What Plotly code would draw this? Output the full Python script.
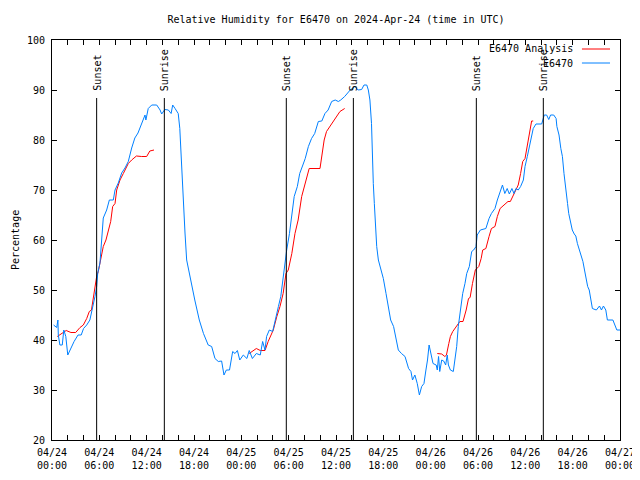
import plotly.graph_objects as go

# hours since 2024-04-24 00:00 UTC
obs_hours = [0.2, 0.6, 0.75, 0.8, 1.0, 1.3, 1.5, 1.75, 2.0, 2.3, 2.5, 2.8, 3.3, 3.7, 4.0, 4.4, 4.8, 5.0, 5.24, 5.45,
             5.66, 5.8, 6.08, 6.3, 6.5, 6.93, 7.27, 7.77, 7.99, 8.4, 8.83, 9.25, 9.67, 10.1, 10.5, 10.9, 11.37, 11.79, 11.9, 12.2,
             12.64, 13.27, 13.7, 13.9, 14.3, 14.75, 15.1, 15.3, 15.6, 16.0, 16.2, 16.4, 16.6, 16.86, 17.07, 17.4, 17.7, 18.1, 18.67, 19.2,
             19.8, 20.24, 20.66, 21.08, 21.5, 21.8, 22.1, 22.5, 22.9, 23.2, 23.5, 23.8, 24.25, 24.7, 25.0, 25.4, 25.9, 26.4, 26.7, 27.0,
             27.2, 27.55, 27.97, 28.27, 28.7, 29.0, 29.2, 29.5, 29.75, 30.1, 30.4, 30.7, 31.1, 31.4, 31.8, 32.1, 32.5, 32.9, 33.3, 33.76,
             34.2, 34.6, 35.0, 35.45, 35.9, 36.3, 36.6, 37.1, 37.8, 38.4, 38.8, 39.25, 39.55, 39.9, 40.1, 40.3, 40.5, 40.6, 40.73, 40.86,
             41.0, 41.16, 41.37, 41.7, 42.0, 42.34, 42.6, 42.93, 43.3, 43.6, 43.9, 44.3, 44.75, 45.2, 45.5, 45.7, 46.0, 46.3, 46.57, 46.86,
             47.15, 47.4, 47.6, 47.8, 48.1, 48.3, 48.7, 48.84, 49.0, 49.15, 49.4, 49.65, 49.9, 50.1, 50.25, 50.5, 50.87, 51.1, 51.3, 51.5,
             51.8, 52.06, 52.35, 52.57, 52.9, 53.2, 53.45, 53.75, 53.9, 54.3, 55.0, 55.4, 55.7, 56.15, 56.45, 56.8, 57.1, 57.4, 57.7, 57.97,
             58.3, 58.56, 58.8, 59.1, 59.4, 59.75, 59.96, 60.25, 60.5, 60.8, 61.0, 61.35, 62.07, 62.4, 62.7, 62.97, 63.2, 63.6, 63.9, 64.0,
             64.27, 64.5, 64.7, 64.9, 65.1, 65.35, 65.5, 65.75, 65.95, 66.2, 66.4, 66.6, 66.8, 67.05, 67.3, 67.5, 67.7, 67.9, 68.1, 68.3,
             68.5, 69.0, 69.4, 69.65, 69.9, 70.2, 70.4, 71.1, 71.3, 71.6, 72.0]
obs_rh = [43, 42.5, 44, 41, 39, 39, 42, 40.7, 37, 38, 38.5, 39.7, 41, 41, 42.3, 43, 44, 45.3, 47.3, 48.7,
          50.7, 53.4, 55.4, 60.7, 64.4, 66, 68, 68, 70, 71.4, 73.4, 74.4, 75.7, 78.4, 80.4, 81.4, 83.4, 85, 84, 86.3,
          87, 87, 86, 85.2, 86.1, 86, 85.3, 87, 86.3, 85.3, 82.3, 75.3, 70, 61.4, 56, 53.3, 51.3, 48, 44, 41.3,
          39, 38.7, 36.3, 35.7, 35.8, 33, 34, 34, 37.7, 37.3, 37.9, 36, 37, 36.3, 37.9, 36.3, 37.3, 37, 39.7, 38,
          40.7, 42, 41.7, 44, 46.7, 48.7, 51.3, 54.7, 58, 61.3, 64.7, 68.7, 70.7, 73.3, 75, 76.3, 78.7, 80.3, 81.3, 83.7,
          83.8, 85.3, 86, 87.7, 88, 87.7, 88, 88.7, 90, 90.7, 90, 90.1, 91, 91, 90, 88, 83.3, 76.7, 71.3, 67.3,
          63.3, 58.7, 56, 54, 52.3, 49.3, 46.7, 44, 42.7, 40, 38, 37.3, 36.7, 34.3, 33.7, 32, 33, 31.3, 29, 30.7,
          31.3, 34, 36, 39, 37, 35.3, 35, 34, 36.7, 33.7, 36, 35.8, 35, 37, 35, 34, 33.7, 36, 38.7, 42.7,
          46.7, 49.3, 51.3, 53.3, 54.7, 57.7, 58, 58.7, 61, 62, 62.3, 64.3, 65.3, 66.3, 68, 69.7, 71, 69.3, 70.3, 69.2,
          70.3, 69.3, 70.3, 70, 70.7, 72, 74.7, 76.7, 78.7, 80.7, 82.3, 83.2, 83.2, 85, 85, 84.1, 85, 85, 84.3, 82.7,
          81, 78.3, 76.7, 73.3, 70, 67.3, 65.3, 63.3, 62, 61.2, 60.8, 59.3, 58.3, 57.3, 55.7, 54, 52, 50.7, 50, 48.3,
          46.3, 46, 46.8, 46, 46.8, 46, 44, 44, 43.3, 42, 42]

ana_hours = [0.67, 1.2, 1.8, 2.4, 3.0, 3.55, 3.97, 4.4, 4.73, 5.0, 5.24, 5.45, 5.66, 5.87, 6.17, 6.5, 6.84, 7.14, 7.44, 7.69,
             7.99, 8.2, 8.62, 9.04, 9.67, 10.1, 10.7, 11.37, 12.0, 12.4, 12.93, None,
             25.0, 25.9, 26.4, 27.0, 27.4, 28.05, 28.5, 28.9, 29.3, 29.66, 29.95, 30.4, 30.8, 31.2, 31.65, 32.07, 32.6, 33.97, 34.2, 34.5,
             34.8, 35.2, 35.9, 36.5, 37.1, None,
             48.84, 49.4, 49.8, 50.0, 50.3, 50.5, 50.8, 51.4, 51.7, 52.1, 52.5, 52.8, 53.0, 53.3, 53.66, 54.1, 54.4, 54.6, 55.0, 55.4,
             55.7, 56.15, 56.45, 56.8, 57.2, 57.8, 58.1, 58.5, 58.8, 59.1, 59.4, 59.67, 59.96, 60.17, 60.4, 60.6, 60.8, 61.0]
ana_rh = [40.7, 41.3, 41.9, 41.5, 41.5, 42.5, 43, 44.3, 45.7, 46, 48.7, 50, 52.7, 53.7, 56, 58.7, 60, 62, 63.7, 66.7,
          67.3, 70, 72, 73.3, 75.3, 76, 76.8, 76.7, 76.7, 77.8, 78, None,
          37.3, 38.3, 37.9, 37.9, 39.7, 42, 44.7, 46.7, 49.3, 53.3, 54, 57.3, 61.3, 64, 68.7, 71.3, 74.3, 74.3, 77.3, 80,
          81.7, 82.7, 84.3, 85.7, 86.3, None,
          37.3, 37.2, 36.7, 37, 39.3, 40.7, 41.7, 43, 43.7, 43.7, 46, 48.3, 48.5, 51.3, 54, 54.7, 56.3, 58, 58.3, 60.7,
          62.3, 62.7, 64.7, 66.3, 66.8, 67.7, 67.7, 69, 70, 71, 73.3, 75.7, 76.3, 78.3, 80.7, 82, 83.8, 83.8]

sun_hours = [5.66, 14.24, 29.7, 38.2, 53.79, 62.28]
sun_labels = ["Sunset", "Sunrise", "Sunset", "Sunrise", "Sunset", "Sunrise"]

tick_hours = [0, 6, 12, 18, 24, 30, 36, 42, 48, 54, 60, 66, 72]
tick_labels = ["04/24<br>00:00", "04/24<br>06:00", "04/24<br>12:00", "04/24<br>18:00",
               "04/25<br>00:00", "04/25<br>06:00", "04/25<br>12:00", "04/25<br>18:00",
               "04/26<br>00:00", "04/26<br>06:00", "04/26<br>12:00", "04/26<br>18:00",
               "04/27<br>00:00"]

FONT = "DejaVu Sans Mono"
FS = 10
RED = "#ff0000"
BLUE = "#0080ff"

fig = go.Figure()
fig.add_trace(go.Scatter(x=ana_hours, y=ana_rh, mode="lines", name="E6470 Analysis",
                         line=dict(color=RED, width=1), connectgaps=False))
fig.add_trace(go.Scatter(x=obs_hours, y=obs_rh, mode="lines", name="E6470",
                         line=dict(color=BLUE, width=1)))

for h, lab in zip(sun_hours, sun_labels):
    fig.add_shape(type="line", x0=h, x1=h, y0=20, y1=88.4, xref="x", yref="y",
                  line=dict(color="black", width=1))
    fig.add_annotation(x=h, y=89.4, text=lab, textangle=-90, showarrow=False,
                       xanchor="center", yanchor="bottom", font=dict(family=FONT, size=FS, color="black"))

# legend (gnuplot style: text then sample)
leg = [("E6470 Analysis", RED, 0.9775), ("E6470", BLUE, 0.9425)]
for txt, col, yy in leg:
    fig.add_annotation(x=0.921, y=yy, xref="paper", yref="paper", text=txt, showarrow=False,
                       xanchor="right", yanchor="middle", font=dict(family=FONT, size=FS, color="black"))
    fig.add_shape(type="line", x0=0.933, x1=0.9824, y0=yy, y1=yy, xref="paper", yref="paper",
                  line=dict(color=col, width=1))

# y axis title
fig.add_annotation(x=-0.0651, y=0.5, xref="paper", yref="paper", text="Percentage", textangle=-90,
                   showarrow=False, xanchor="center", yanchor="middle",
                   font=dict(family=FONT, size=FS, color="black"))

# page body has an 8px margin; offset the figure layout accordingly
fig.update_layout(
    width=640, height=480,
    margin=dict(l=44, r=28, t=32, b=48, autoexpand=False),
    paper_bgcolor="white", plot_bgcolor="white",
    showlegend=False,
    font=dict(family=FONT, size=FS, color="black"),
    title=dict(text="Relative Humidity for E6470 on 2024-Apr-24 (time in UTC)", x=(336 - 8) / 640, xanchor="center",
               xref="container", yref="container", y=1 - 11 / 480, yanchor="middle",
               font=dict(family=FONT, size=FS, color="black")),
)
fig.update_xaxes(range=[0, 72], tickmode="array", tickvals=tick_hours, ticktext=tick_labels,
                 ticks="inside", ticklen=5, tickcolor="black", showline=True, linecolor="black", linewidth=1,
                 mirror="allticks", showgrid=False, zeroline=False, automargin=False, ticklabelstandoff=3,
                 minor=dict(tickmode="linear", tick0=0, dtick=2, ticks="inside", ticklen=5, tickcolor="black"),
                 tickfont=dict(family=FONT, size=FS))
fig.update_yaxes(range=[20, 100], tickmode="linear", tick0=20, dtick=10,
                 ticks="inside", ticklen=5, tickcolor="black", showline=True, linecolor="black", linewidth=1,
                 mirror="allticks", showgrid=False, zeroline=False, automargin=False, ticklabelstandoff=4,
                 tickfont=dict(family=FONT, size=FS))

fig.write_html("out.html")
